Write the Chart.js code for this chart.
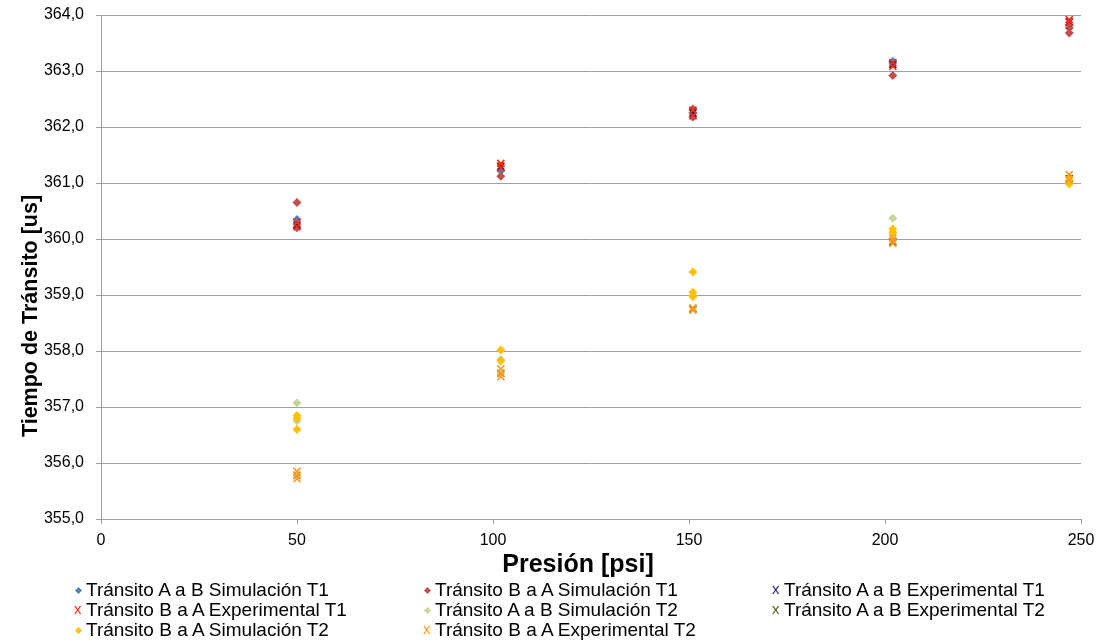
<!DOCTYPE html>
<html>
<head>
<meta charset="utf-8">
<script src="https://cdn.jsdelivr.net/npm/chart.js@4"></script>
<style>
    body { margin: 0; background: #fff; }
    #wrap { position: relative; width: 1105px; height: 643px; }
    #chart { position: absolute; left: 0; top: 0; }
    #legend { position: absolute; left: 0; top: 580px; width: 1105px; height: 63px;
        font-family: "Liberation Sans", Arial, sans-serif; font-size: 19px; color: #000; }
    .item { position: absolute; height: 20px; line-height: 20px; white-space: nowrap; }
    .mk { position: absolute; left: 0; top: 0; width: 12px; height: 20px; }
    .dia { position: absolute; left: 3px; top: 8px; width: 5px; height: 5px; transform: rotate(45deg); }
    .crs { position: absolute; left: 1px; top: -1px; font-size: 15px; }
    .txt { position: absolute; left: 13px; top: 0; }
</style>
</head>
<body>
<div id="wrap">
    <canvas id="chart" width="1105" height="580"></canvas>
    <div id="legend"></div>
</div>
<script>
// Presiones (psi) y tiempos de tránsito (us) por serie
const seriesNames = [
    'Tránsito A a B Simulación T1',
    'Tránsito B a A Simulación T1',
    'Tránsito A a B Experimental T1',
    'Tránsito B a A Experimental T1',
    'Tránsito A a B Simulación T2',
    'Tránsito A a B Experimental T2',
    'Tránsito B a A Simulación T2',
    'Tránsito B a A Experimental T2'
];
const seriesColors = ['#4F81BD', '#C0504D', '#1F1F7A', '#FF2A0A', '#C3D69B', '#4F6228', '#FFC000', '#F79A1E'];
const seriesMarkers = ['diamond', 'diamond', 'x', 'x', 'diamond', 'x', 'diamond', 'x'];

const abSimT1X = [50, 102, 151, 202, 247];
const abSimT1Y = [360.35, 361.22, 362.25, 363.17, 363.82];

const baSimT1X = [50, 50, 102, 151, 151, 202, 247, 247];
const baSimT1Y = [360.65, 360.2, 361.12, 362.32, 362.18, 362.92, 363.77, 363.68];

const abExpT1X = [50, 102, 151, 202, 247];
const abExpT1Y = [360.25, 361.3, 362.25, 363.12, 363.88];

const baExpT1X = [50, 50, 102, 102, 151, 151, 202, 202, 247, 247];
const baExpT1Y = [360.3, 360.22, 361.35, 361.27, 362.3, 362.2, 363.15, 363.08, 363.92, 363.87];

const abSimT2X = [50, 50, 102, 151, 202, 247];
const abSimT2Y = [357.07, 356.75, 357.85, 359.0, 360.37, 361.02];

const abExpT2X = [50, 102, 151, 202, 247];
const abExpT2Y = [355.78, 357.6, 358.75, 359.95, 361.08];

const baSimT2X = [50, 50, 50, 102, 102, 151, 151, 151, 202, 202, 247, 247];
const baSimT2Y = [356.85, 356.8, 356.6, 358.02, 357.82, 359.41, 359.05, 358.97, 360.18, 360.12, 361.05, 360.98];

const baExpT2X = [50, 50, 50, 102, 102, 102, 151, 151, 202, 202, 202, 247, 247];
const baExpT2Y = [355.85, 355.78, 355.72, 357.68, 357.6, 357.54, 358.77, 358.73, 360.02, 359.97, 359.92, 361.15, 361.05];

const seriesX = [abSimT1X, baSimT1X, abExpT1X, baExpT1X, abSimT2X, abExpT2X, baSimT2X, baExpT2X];
const seriesY = [abSimT1Y, baSimT1Y, abExpT1Y, baExpT1Y, abSimT2Y, abExpT2Y, baSimT2Y, baExpT2Y];

const xTitle = 'Presión [psi]';
const yTitle = 'Tiempo de Tránsito [us]';

const gridColor = '#A0A0A0';

const datasets = seriesNames.map((name, i) => {
    const isX = seriesMarkers[i] === 'x';
    return {
        label: name,
        data: seriesX[i].map((x, j) => ({ x: x, y: seriesY[i][j] })),
        pointStyle: isX ? 'crossRot' : 'rectRot',
        pointRadius: isX ? 5 : 4.5,
        borderWidth: isX ? 1.6 : 0,
        borderColor: seriesColors[i],
        backgroundColor: seriesColors[i],
        order: seriesNames.length - i // las últimas series quedan encima
    };
});

// Títulos de ejes dibujados a mano: en el original no están centrados en el área del gráfico
const axisTitles = {
    id: 'axisTitles',
    afterDraw(chart) {
        const ctx = chart.ctx;
        ctx.save();
        ctx.fillStyle = '#000';
        ctx.textAlign = 'center';
        ctx.textBaseline = 'middle';
        ctx.font = 'bold 25px "Liberation Sans"';
        ctx.fillText(xTitle, 578, 565);
        ctx.translate(31, 316);
        ctx.rotate(-Math.PI / 2);
        ctx.font = 'bold 21.5px "Liberation Sans"';
        ctx.fillText(yTitle, 0, 0);
        ctx.restore();
    }
};

new Chart(document.getElementById('chart').getContext('2d'), {
    type: 'scatter',
    data: { datasets: datasets },
    options: {
        responsive: false,
        animation: false,
        layout: { padding: { top: 15, right: 24, left: 0, bottom: 0 } },
        plugins: { legend: { display: false }, tooltip: { enabled: false } },
        scales: {
            x: {
                type: 'linear',
                min: 0,
                max: 250,
                afterFit: (scale) => {
                    scale.height = 61;
                    scale.paddingLeft = 0;
                    scale.paddingRight = 0;
                },
                ticks: { stepSize: 50, padding: 7, color: '#000',
                    font: { family: 'Liberation Sans', size: 16 } },
                grid: { drawOnChartArea: false, drawTicks: true, tickLength: 5, color: gridColor },
                border: { color: gridColor }
            },
            y: {
                min: 355,
                max: 364,
                afterFit: (scale) => {
                    scale.width = 101;
                    scale.paddingTop = 0;
                    scale.paddingBottom = 0;
                },
                ticks: { stepSize: 1, padding: 12, color: '#000',
                    font: { family: 'Liberation Sans', size: 16 },
                    callback: (v) => v.toFixed(1).replace('.', ',') },
                grid: { color: gridColor, tickLength: 5 },
                border: { color: gridColor }
            }
        }
    },
    plugins: [axisTitles]
});

// Leyenda en tres columnas, como en el original
const legend = document.getElementById('legend');
const colX = [73, 422, 771];
seriesNames.forEach((name, i) => {
    const item = document.createElement('div');
    item.className = 'item';
    item.style.left = colX[i % 3] + 'px';
    item.style.top = (Math.floor(i / 3) * 20) + 'px';
    const marker = seriesMarkers[i] === 'x'
        ? `<span class="crs" style="color:${seriesColors[i]}">x</span>`
        : `<span class="dia" style="background:${seriesColors[i]}"></span>`;
    item.innerHTML = `<span class="mk">${marker}</span><span class="txt">${name}</span>`;
    legend.appendChild(item);
});
</script>
</body>
</html>
